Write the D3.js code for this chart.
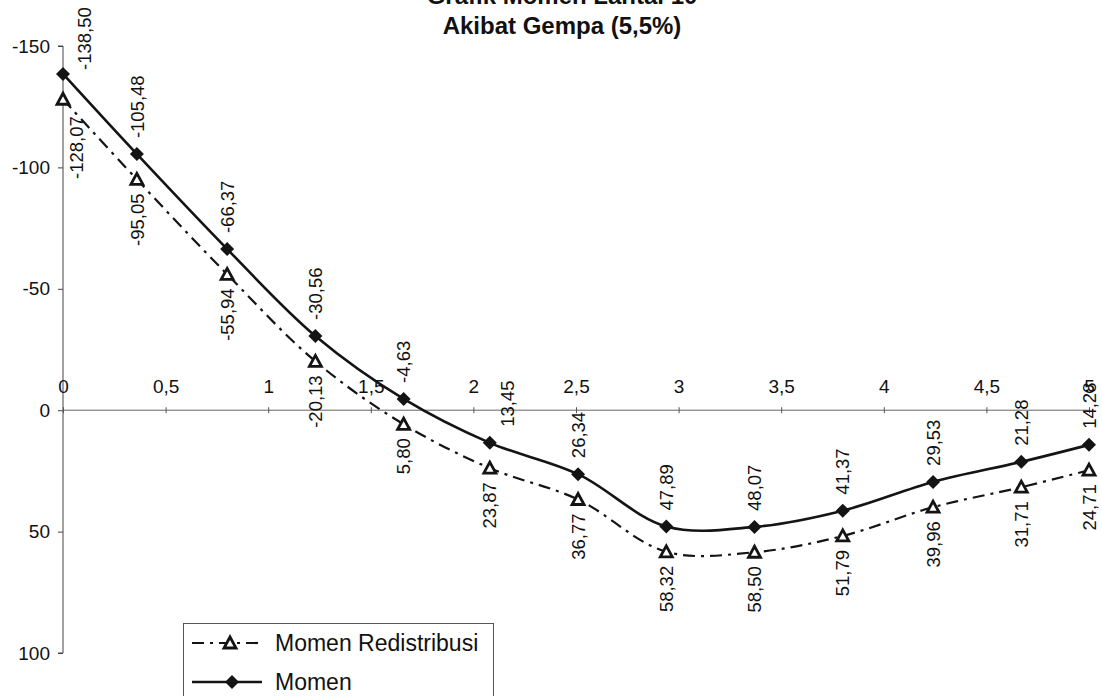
<!DOCTYPE html>
<html>
<head>
<meta charset="utf-8">
<script src="https://cdn.jsdelivr.net/npm/d3@7"></script>
<style>
  html, body { margin: 0; padding: 0; background: #fff; }
  svg { display: block; }
  text { font-family: "Liberation Sans", Arial, Helvetica, sans-serif; fill: #111; }
</style>
</head>
<body>
<svg id="chart" width="1102" height="696"></svg>
<script>
// ---- data ----
const titleLines = ["Grafik Momen Lantai 10", "Akibat Gempa (5,5%)"];
const seriesNames = ["Momen Redistribusi", "Momen"];
const xPos = [0, 0.36, 0.80, 1.23, 1.66, 2.08, 2.51, 2.94, 3.37, 3.80, 4.24, 4.67, 5.0];
const momen = [-138.50, -105.48, -66.37, -30.56, -4.63, 13.45, 26.34, 47.89, 48.07, 41.37, 29.53, 21.28, 14.28];
const momenLabels = ["-138,50", "-105,48", "-66,37", "-30,56", "-4,63", "13,45", "26,34", "47,89", "48,07", "41,37", "29,53", "21,28", "14,28"];
const redis = [-128.07, -95.05, -55.94, -20.13, 5.80, 23.87, 36.77, 58.32, 58.50, 51.79, 39.96, 31.71, 24.71];
const redisLabels = ["-128,07", "-95,05", "-55,94", "-20,13", "5,80", "23,87", "36,77", "58,32", "58,50", "51,79", "39,96", "31,71", "24,71"];
const xTicks = [0, 0.5, 1, 1.5, 2, 2.5, 3, 3.5, 4, 4.5, 5];
const xTickLabels = ["0", "0,5", "1", "1,5", "2", "2,5", "3", "3,5", "4", "4,5", "5"];
const yTicks = [-150, -100, -50, 0, 50, 100];
const yTickLabels = ["-150", "-100", "-50", "0", "50", "100"];

// ---- layout ----
const svg = d3.select("#chart");
const ink = "#141414";
const x = d3.scaleLinear().domain([0, 5]).range([63, 1089]);
const y = d3.scaleLinear().domain([-150, 100]).range([46, 653]);

// title
svg.append("g").selectAll("text").data(titleLines).join("text")
  .attr("x", 562).attr("y", (d, i) => 4 + i * 30)
  .attr("text-anchor", "middle")
  .style("font-size", "24px").style("font-weight", "bold")
  .text(d => d);

// y axis
const yAxis = d3.axisLeft(y).tickValues(yTicks)
  .tickFormat((d, i) => yTickLabels[i]).tickSize(5).tickPadding(8);
const gy = svg.append("g").attr("transform", `translate(${x(0)},0)`).call(yAxis);
gy.select(".domain").attr("stroke", "#444").attr("d", `M-5,${y(-150)}H0V${y(100)}H-5`);
gy.selectAll(".tick line").attr("stroke", "#444");
gy.selectAll(".tick text").style("font-size", "19px").attr("fill", ink)
  .style("font-family", '"Liberation Sans", Arial, sans-serif');

// x axis (at y = 0, labels above)
const xAxis = d3.axisTop(x).tickValues(xTicks)
  .tickFormat((d, i) => xTickLabels[i]).tickSize(3).tickPadding(14);
const gx = svg.append("g").attr("transform", `translate(0,${y(0)})`).call(xAxis);
gx.select(".domain").attr("stroke", "#666").attr("d", `M${x(0)},0H${x(5)}`);
gx.selectAll(".tick line").attr("stroke", "#555").attr("y1", 3).attr("y2", -3);
gx.selectAll(".tick text").style("font-size", "19px").attr("fill", ink)
  .style("font-family", '"Liberation Sans", Arial, sans-serif');

// lines
const lineGen = d3.line().x(d => x(d[0])).y(d => y(d[1])).curve(d3.curveCatmullRom.alpha(0.5));
const redisPts = xPos.map((v, i) => [v, redis[i]]);
const momenPts = xPos.map((v, i) => [v, momen[i]]);

svg.append("path").datum(redisPts).attr("d", lineGen)
  .attr("fill", "none").attr("stroke", ink).attr("stroke-width", 2.2)
  .attr("stroke-dasharray", "12,6,3,6");
svg.append("path").datum(momenPts).attr("d", lineGen)
  .attr("fill", "none").attr("stroke", ink).attr("stroke-width", 2.6);

// markers
const triPath = "M0,-6L6,5L-6,5Z";
const diaPath = "M0,-7L7,0L0,7L-7,0Z";
svg.append("g").selectAll("path").data(redisPts).join("path")
  .attr("transform", d => `translate(${x(d[0])},${y(d[1])})`)
  .attr("d", triPath).attr("fill", "#fff").attr("stroke", ink).attr("stroke-width", 2.8)
  .attr("stroke-linejoin", "miter");
svg.append("g").selectAll("path").data(momenPts).join("path")
  .attr("transform", d => `translate(${x(d[0])},${y(d[1])})`)
  .attr("d", diaPath).attr("fill", ink);

// data labels: Momen above, Redistribusi below (rotated)
svg.append("g").selectAll("text").data(momenPts).join("text")
  .attr("transform", (d, i) => {
    const dx = i === 0 ? 21 : (i === 5 ? 18 : 0);
    const dy = i === 0 ? -4 : -16;
    return `translate(${x(d[0]) + dx},${y(d[1]) + dy}) rotate(-90)`;
  })
  .attr("text-anchor", "start").attr("dy", "0.36em")
  .style("font-size", "18.5px")
  .text((d, i) => momenLabels[i]);

svg.append("g").selectAll("text").data(redisPts).join("text")
  .attr("transform", (d, i) => {
    const dx = i === 0 ? 13 : 0;
    const dy = i === 0 ? 17 : 14;
    return `translate(${x(d[0]) + dx},${y(d[1]) + dy}) rotate(-90)`;
  })
  .attr("text-anchor", "end").attr("dy", "0.36em")
  .style("font-size", "18.5px")
  .text((d, i) => redisLabels[i]);

// legend
const lg = svg.append("g");
lg.append("rect").attr("x", 183.5).attr("y", 623.5).attr("width", 310).attr("height", 80)
  .attr("fill", "#fff").attr("stroke", "#555").attr("stroke-width", 1);
// entry 1
lg.append("line").attr("x1", 192).attr("x2", 258).attr("y1", 643).attr("y2", 643)
  .attr("stroke", ink).attr("stroke-width", 2.2).attr("stroke-dasharray", "12,6,3,6").attr("stroke-dashoffset", 0);
lg.append("path").attr("transform", "translate(230,643)").attr("d", triPath)
  .attr("fill", "#fff").attr("stroke", ink).attr("stroke-width", 2.8);
lg.append("text").attr("x", 275).attr("y", 651).style("font-size", "23px").text(seriesNames[0]);
// entry 2
lg.append("line").attr("x1", 192).attr("x2", 262).attr("y1", 682).attr("y2", 682)
  .attr("stroke", ink).attr("stroke-width", 2.6);
lg.append("path").attr("transform", "translate(232,682)").attr("d", diaPath).attr("fill", ink);
lg.append("text").attr("x", 275).attr("y", 690).style("font-size", "23px").text(seriesNames[1]);
</script>
</body>
</html>
